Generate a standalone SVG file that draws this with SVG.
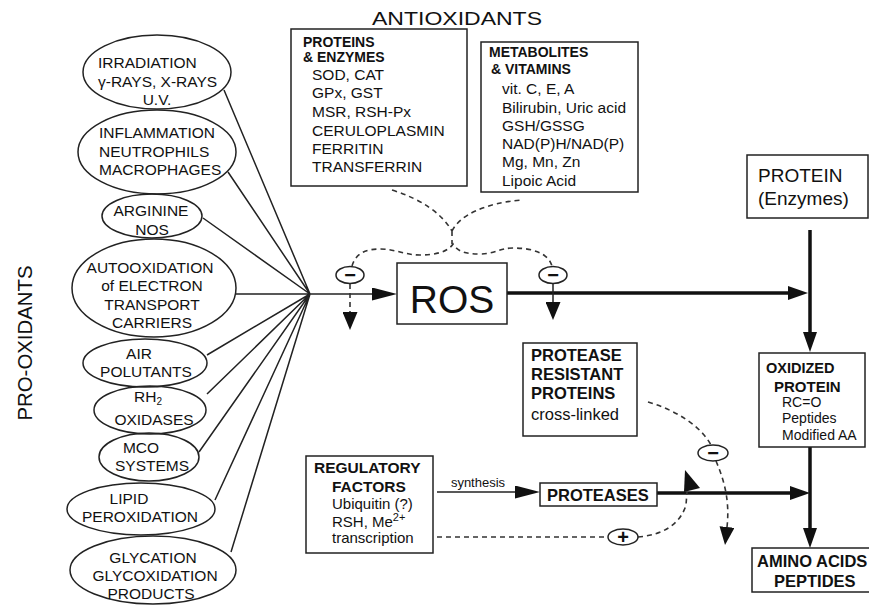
<svg xmlns="http://www.w3.org/2000/svg" width="869" height="607" viewBox="0 0 869 607">
<defs>
<style>
text{font-family:"Liberation Sans",Arial,sans-serif;fill:#111}
.el{fill:none;stroke:#222;stroke-width:1.5}
.bx{fill:#fff;stroke:#222;stroke-width:1.5}
.ln{fill:none;stroke:#222;stroke-width:1.5}
.th{fill:none;stroke:#111;stroke-width:3.5}
.da{fill:none;stroke:#333;stroke-width:1.6;stroke-dasharray:5,4}
.et{font-size:15.5px;text-anchor:middle}
.el-l{font-size:15.5px}
.hb{font-size:14px;font-weight:bold}
.it{font-size:15.5px}
.sig{font-size:20px;font-weight:bold;text-anchor:middle}
</style>
<marker id="ah" markerUnits="userSpaceOnUse" markerWidth="20" markerHeight="14" refX="0" refY="7" orient="auto"><path d="M0,0 L20,7 L0,14 z" fill="#111"/></marker>
<marker id="ahm" markerUnits="userSpaceOnUse" markerWidth="25" markerHeight="13" refX="0" refY="6.5" orient="auto"><path d="M0,0 L25,6.5 L0,13 z" fill="#111"/></marker>
<marker id="ahd" markerUnits="userSpaceOnUse" markerWidth="18" markerHeight="15" refX="0" refY="7.5" orient="auto"><path d="M0,0 L18,7.5 L0,15 z" fill="#111"/></marker>
</defs>
<rect width="869" height="607" fill="#fff"/>

<text x="457" y="25" font-size="19" text-anchor="middle" textLength="170" lengthAdjust="spacingAndGlyphs">ANTIOXIDANTS</text>
<text transform="translate(32,343) rotate(-90)" font-size="20" text-anchor="middle" textLength="155" lengthAdjust="spacingAndGlyphs">PRO-OXIDANTS</text>

<g id="connectors">
<path class="ln" d="M224,90 L310,294 M228,172 L310,294 M203,218 L310,294 M236,294 L310,294 M207,355 L310,294 M207,394 L310,294 M199,452 L310,294 M215,500 L310,294 M231,552 L310,294"/>
<path class="ln" d="M310,294 H372" marker-end="url(#ahm)"/>
<path class="th" d="M507,293 H788" marker-end="url(#ah)"/>
<path class="th" d="M810,230 V332" marker-end="url(#ah)"/>
<path class="th" d="M810,447 V528" marker-end="url(#ah)"/>
<path class="th" d="M657,493 H790" marker-end="url(#ah)"/>
<path class="ln" d="M437,492 H515" marker-end="url(#ahm)"/>
<text x="478" y="487" font-size="13" text-anchor="middle">synthesis</text>
<path class="da" d="M350,284 V312" marker-end="url(#ahd)"/>
<path class="ln" d="M553,284 V302" marker-end="url(#ahd)"/>
<path class="da" d="M392,190 Q436,204 452,231 M452,231 C460,215 485,203 522,200 M452,231 V244"/>
<path class="da" d="M352,266 C356,252 368,249 380,249 C395,249 405,255 420,255 C435,255 448,252 453,244 C458,252 466,254 480,254 C495,254 500,248 513,248 C530,248 548,252 552,266"/>
<path class="da" d="M648,402 C675,410 700,425 711,445"/>
<path class="da" d="M716,461 C724,480 730,500 727,527" marker-end="url(#ahd)"/>
<path class="da" d="M437,537 H608"/>
<path class="da" d="M638,537 C662,535 680,525 686,505 L687,492"/>
<polygon points="685,470 700,488 684,492" fill="#111"/>
</g>

<g id="inh1"><ellipse class="bx" cx="350" cy="275" rx="14" ry="8.5"/><text class="sig" x="350" y="282">−</text></g>
<g id="inh2"><ellipse class="bx" cx="553" cy="275" rx="14" ry="8.5"/><text class="sig" x="553" y="282">−</text></g>
<g id="inh3"><ellipse class="bx" cx="713" cy="453" rx="15" ry="8"/><text class="sig" x="713" y="460">−</text></g>
<g id="act1"><ellipse class="bx" cx="623" cy="537" rx="15" ry="8"/><text class="sig" x="623" y="544">+</text></g>

<g id="irradiation"><ellipse class="el" cx="157" cy="72" rx="74" ry="37"/>
<text class="el-l" x="98" y="68">IRRADIATION</text><text class="el-l" x="98" y="87">γ-RAYS, X-RAYS</text><text class="et" x="157" y="105">U.V.</text></g>
<g id="inflammation"><ellipse class="el" cx="157" cy="152" rx="79" ry="42"/>
<text class="el-l" x="99" y="138">INFLAMMATION</text><text class="el-l" x="99" y="157">NEUTROPHILS</text><text class="el-l" x="99" y="175">MACROPHAGES</text></g>
<g id="arginine"><ellipse class="el" cx="152" cy="216" rx="50" ry="22"/>
<text class="et" x="151" y="216">ARGININE</text><text class="et" x="152" y="235">NOS</text></g>
<g id="autooxidation"><ellipse class="el" cx="154" cy="288" rx="82" ry="49"/>
<text class="et" x="150" y="273">AUTOOXIDATION</text><text class="et" x="152" y="291">of  ELECTRON</text><text class="et" x="152" y="310">TRANSPORT</text><text class="et" x="152" y="328">CARRIERS</text></g>
<g id="air"><ellipse class="el" cx="145" cy="363" rx="62" ry="24"/>
<text class="et" x="139" y="359">AIR</text><text class="et" x="146" y="377">POLUTANTS</text></g>
<g id="rh2"><ellipse class="el" cx="150" cy="410" rx="56" ry="24"/>
<text class="et" x="148" y="402">RH<tspan font-size="10" dy="3">2</tspan></text><text class="et" x="154" y="425">OXIDASES</text></g>
<g id="mco"><ellipse class="el" cx="149" cy="457" rx="50" ry="24"/>
<text class="et" x="141" y="453">MCO</text><text class="et" x="152" y="471">SYSTEMS</text></g>
<g id="lipid"><ellipse class="el" cx="141" cy="509" rx="74" ry="26"/>
<text class="et" x="129" y="504">LIPID</text><text class="et" x="140" y="522">PEROXIDATION</text></g>
<g id="glycation"><ellipse class="el" cx="153" cy="570" rx="83" ry="34"/>
<text class="et" x="153" y="563">GLYCATION</text><text class="et" x="155" y="581">GLYCOXIDATION</text><text class="et" x="151" y="599">PRODUCTS</text></g>

<g id="proteins-enzymes"><rect class="bx" x="291" y="29" width="176" height="157"/>
<text class="hb" x="303" y="47">PROTEINS</text><text class="hb" x="303" y="62">&amp; ENZYMES</text>
<text class="it" x="312" y="80">SOD, CAT</text><text class="it" x="312" y="98">GPx, GST</text><text class="it" x="312" y="117">MSR, RSH-Px</text><text class="it" x="312" y="136">CERULOPLASMIN</text><text class="it" x="312" y="154">FERRITIN</text><text class="it" x="312" y="172">TRANSFERRIN</text></g>
<g id="metabolites"><rect class="bx" x="481" y="42" width="157" height="150"/>
<text class="hb" x="489" y="57">METABOLITES</text><text class="hb" x="491" y="74">&amp; VITAMINS</text>
<text class="it" x="502" y="94">vit. C, E, A</text><text class="it" x="502" y="113">Bilirubin,  Uric acid</text><text class="it" x="502" y="131">GSH/GSSG</text><text class="it" x="502" y="149">NAD(P)H/NAD(P)</text><text class="it" x="502" y="167">Mg, Mn, Zn</text><text class="it" x="502" y="186">Lipoic Acid</text></g>

<g id="ros"><rect class="bx" x="397" y="263" width="110" height="61"/><text x="452" y="313" font-size="39" text-anchor="middle">ROS</text></g>
<g id="protein"><rect class="bx" x="747" y="155" width="121" height="63"/>
<text x="758" y="182" font-size="19">PROTEIN</text><text x="758" y="205" font-size="19">(Enzymes)</text></g>
<g id="oxidized"><rect class="bx" x="759" y="353" width="106" height="94"/>
<text x="766" y="373" font-size="14.5" font-weight="bold">OXIDIZED</text><text x="774" y="392" font-size="15" font-weight="bold">PROTEIN</text>
<text x="782" y="407" font-size="14">RC=O</text><text x="782" y="423" font-size="14">Peptides</text><text x="782" y="440" font-size="14">Modified AA</text></g>
<g id="resistant"><rect class="bx" x="523" y="343" width="114" height="93"/>
<text x="531" y="361" font-size="16.5" font-weight="bold">PROTEASE</text><text x="531" y="380" font-size="16.5" font-weight="bold">RESISTANT</text><text x="531" y="399" font-size="16.5" font-weight="bold">PROTEINS</text><text x="531" y="420" font-size="16.5">cross-linked</text></g>
<g id="regulatory"><rect class="bx" x="306" y="456" width="127" height="97"/>
<text x="314" y="473" font-size="15.5" font-weight="bold">REGULATORY</text><text x="332" y="492" font-size="15.5" font-weight="bold">FACTORS</text>
<text x="332" y="509" font-size="15">Ubiquitin (?)</text><text x="332" y="527" font-size="15">RSH, Me<tspan font-size="11" dy="-6">2+</tspan></text><text x="332" y="543" font-size="15">transcription</text></g>
<g id="proteases"><rect class="bx" x="540" y="483" width="117" height="23"/><text x="547" y="501" font-size="16.5" font-weight="bold">PROTEASES</text></g>
<g id="amino"><rect class="bx" x="752" y="548" width="125" height="44"/>
<text x="757" y="567" font-size="16.5" font-weight="bold">AMINO ACIDS</text><text x="774" y="587" font-size="16.5" font-weight="bold">PEPTIDES</text></g>
</svg>
